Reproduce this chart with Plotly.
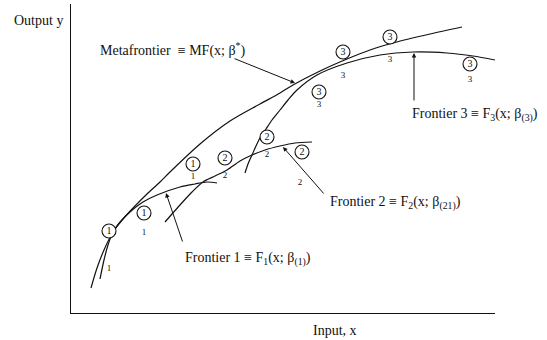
import plotly.graph_objects as go

# Metafrontier and group frontiers (input x, output y)
meta_x = [20, 26, 33, 42, 52, 64, 76, 89, 99, 129, 159, 189, 209, 222, 249, 276, 299, 322, 359, 391]
meta_y = [25, 45, 63, 81, 94, 107, 119, 131, 141, 169, 192, 209, 220, 228, 242, 254, 263, 270, 279, 286]

f1_x = [29, 33, 37, 42, 50, 59, 72, 86, 109, 124, 136, 146]
f1_y = [34, 53, 68, 81, 92, 101, 111, 118, 126, 129, 131, 130]

f2_x = [94, 101, 109, 121, 132, 144, 156, 169, 181, 194, 209, 224, 241]
f2_y = [91, 99, 108, 121, 131, 137, 143, 152, 158, 163, 167, 170, 171]

f3_x = [174, 177, 181, 185, 189, 195, 201, 209, 217, 226, 246, 276, 309, 342, 376, 402, 424]
f3_y = [140, 149, 158, 167, 175, 184, 193, 203, 213, 223, 238, 250, 258, 261, 260, 257, 253]

# circled group markers
circ_x = [38, 73, 122, 154, 196, 231, 248, 272, 319, 399]
circ_y = [82, 100, 149, 155, 176, 161, 221, 261, 276, 249]
circ_txt = ["1", "1", "1", "2", "2", "2", "3", "3", "3", "3"]

# plain group labels
lab_x = [38, 73, 122, 154, 196, 229, 248, 272, 319, 399]
lab_y = [44, 80, 136, 137, 158, 130, 208, 237, 253, 233]
lab_txt = ["1", "1", "1", "2", "2", "2", "3", "3", "3", "3"]

FONT = "Liberation Serif, Times New Roman, serif"
INK = "#111111"
LINE = dict(color=INK, width=1.2, shape="spline", smoothing=0.8)

fig = go.Figure()
for xs, ys in [(meta_x, meta_y), (f1_x, f1_y), (f2_x, f2_y), (f3_x, f3_y)]:
    fig.add_trace(go.Scatter(x=xs, y=ys, mode="lines", line=LINE, cliponaxis=False,
                             hoverinfo="skip"))

fig.add_trace(go.Scatter(x=circ_x, y=circ_y, mode="markers+text", text=circ_txt,
                         textposition="middle center",
                         textfont=dict(family=FONT, size=10, color=INK),
                         marker=dict(symbol="circle", size=14, color="white",
                                     line=dict(color=INK, width=1.1)),
                         cliponaxis=False))

fig.add_trace(go.Scatter(x=lab_x, y=lab_y, mode="text", text=lab_txt,
                         textfont=dict(family=FONT, size=9, color=INK),
                         cliponaxis=False))

# labels and arrows
labels = [
    ("Metafrontier  ≡ MF(x; β<sup>*</sup>)", 27, 264, (162, 255), (224, 230)),
    ("Frontier 3 ≡ F<sub>3</sub>(x; β<sub>(3)</sub>)", 339, 198, (343, 211), (343, 260)),
    ("Frontier 2 ≡ F<sub>2</sub>(x; β<sub>(21)</sub>)", 257, 110, (254, 118), (212, 166)),
    ("Frontier 1 ≡ F<sub>1</sub>(x; β<sub>(1)</sub>)", 112, 54, (112, 70), (95, 120)),
]
annotations = []
for txt, tx, ty, tail, tip in labels:
    annotations.append(dict(x=tx, y=ty, xref="x", yref="y", text=txt, showarrow=False,
                            xanchor="left", yanchor="middle",
                            font=dict(family=FONT, size=14, color=INK)))
    annotations.append(dict(x=tip[0], y=tip[1], ax=tail[0], ay=tail[1], xref="x", yref="y",
                            axref="x", ayref="y", text="", showarrow=True,
                            arrowhead=2, arrowsize=0.9, arrowwidth=1, arrowcolor=INK,
                            standoff=0, startstandoff=0))

# axis titles, in paper coords (relative to the plotting area)
annotations.append(dict(x=-0.14, y=0.945, xref="paper", yref="paper", text="Output y",
                        showarrow=False, xanchor="left", yanchor="middle",
                        font=dict(family=FONT, size=14, color=INK)))
annotations.append(dict(x=0.623, y=-0.058, xref="paper", yref="paper", text="Input, x",
                        showarrow=False, xanchor="center", yanchor="middle",
                        font=dict(family=FONT, size=14, color=INK)))

fig.update_layout(
    width=547, height=340,
    margin=dict(l=71, r=52, t=4, b=27),
    paper_bgcolor="white", plot_bgcolor="white",
    showlegend=False,
    annotations=annotations,
    xaxis=dict(range=[0, 424], showline=True, linecolor=INK, linewidth=1.3,
               showgrid=False, zeroline=False, showticklabels=False, ticks=""),
    yaxis=dict(range=[0, 309], showline=True, linecolor=INK, linewidth=1.3,
               showgrid=False, zeroline=False, showticklabels=False, ticks=""),
)

fig.write_html("out.html", config={"displayModeBar": False},
               post_script="document.body.style.margin='0';")
